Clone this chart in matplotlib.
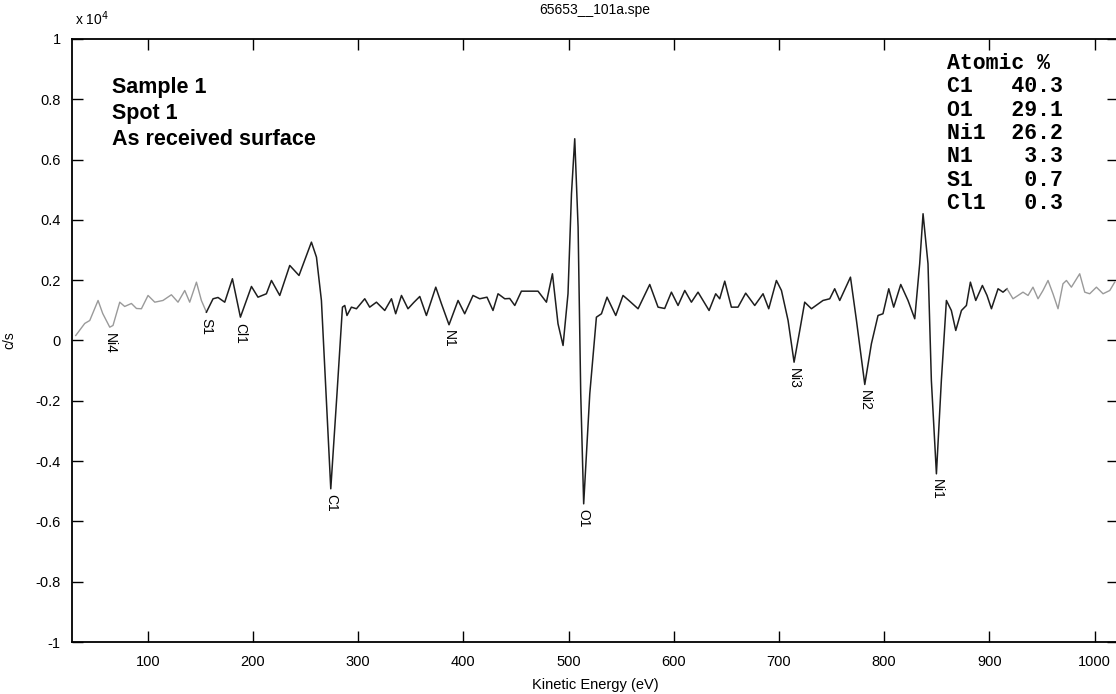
import numpy as np
import matplotlib.pyplot as plt
from matplotlib.ticker import FuncFormatter

plt.rcParams['font.family'] = ['Liberation Sans', 'DejaVu Sans']

# kinetic energy (eV) and counts (c/s)
energy_low = [31.6, 40.1, 44.9, 52.8, 57.2, 63.9, 67.0, 73.4, 78.1, 84.5, 89.3, 94.0,
              100.3, 106.7, 114.5, 122.5, 128.8, 135.2, 139.9, 146.3, 151.0, 155.8]
counts_low = [166, 564, 663, 1327, 896, 441, 498, 1270, 1128, 1227, 1061, 1052,
              1493, 1270, 1327, 1516, 1270, 1658, 1270, 1934, 1327, 939]

energy_mid = [155.8, 162.1, 166.8, 173.2, 180.5, 188.1, 198.6, 204.8, 212.8, 217.6, 225.5,
              235.0, 243.8, 255.6, 260.4, 265.1, 274.0, 279.9, 285.1, 287.3, 289.4, 293.6,
              298.4, 306.3, 311.0, 317.4, 325.3, 331.7, 335.7, 341.2, 347.4, 352.9, 358.6,
              364.9, 373.8, 379.2, 386.4, 395.0, 401.3, 409.2, 415.6, 422.5, 428.2, 433.0,
              439.4, 444.1, 448.9, 455.2, 471.0, 479.0, 484.7, 490.0, 494.8, 499.5, 502.8,
              505.9, 509.1, 511.6, 514.4, 520.2, 526.5, 531.3, 536.6, 544.9, 551.8, 556.6,
              566.1, 577.2, 585.1, 591.4, 597.8, 604.1, 610.5, 616.8, 623.1, 633.6, 639.9,
              643.7, 648.5, 654.8, 661.1, 668.4, 677.0, 684.9, 690.3, 697.6, 702.4, 708.7,
              714.4, 719.8, 724.5, 730.9, 741.9, 748.3, 753.0, 757.8, 768.0, 773.7, 781.6,
              787.9, 794.2, 798.9, 804.4, 809.1, 815.8, 822.7, 829.1, 833.8, 837.0, 841.7,
              844.9, 849.7, 854.4, 859.2, 863.9, 868.1, 873.5, 878.2, 882.0, 887.1, 893.4,
              897.8, 902.0, 908.3, 913.0, 916.8]
counts_mid = [939, 1383, 1426, 1270, 2047, 773, 1791, 1436, 1549, 1990, 1493,
              2488, 2156, 3261, 2763, 1327, -4919, -1768, 1105, 1161, 829, 1105,
              1052, 1383, 1105, 1270, 995, 1383, 886, 1493, 1052, 1260, 1459,
              829, 1768, 1217, 521, 1327, 886, 1493, 1383, 1436, 995, 1549,
              1383, 1393, 1161, 1635, 1635, 1270, 2212, 554, -166, 1549, 4866,
              6690, 3758, -1768, -5417, -1768, 773, 886, 1436, 829, 1493, 1350,
              1052, 1857, 1105, 1061, 1602, 1161, 1658, 1270, 1602, 995, 1549,
              1383, 1967, 1105, 1105, 1569, 1161, 1549, 1052, 1990, 1658, 663,
              -720, 332, 1270, 1052, 1327, 1383, 1715, 1327, 2100, 663, -1459,
              -109, 829, 886, 1715, 1105, 1857, 1327, 720, 2544, 4203, 2544,
              -1327, -4422, -1327, 1327, 995, 332, 995, 1161, 1934, 1327, 1824,
              1493, 1052, 1715, 1602, 1715]

energy_high = [916.8, 922.5, 927.3, 932.0, 936.8, 941.5, 946.3, 951.0, 955.8, 960.5, 965.3,
               970.0, 973.3, 978.0, 985.9, 990.7, 995.4, 1001.8, 1008.1, 1014.5, 1019.2]
counts_high = [1715, 1383, 1493, 1602, 1493, 1768, 1383, 1658, 1990, 1549, 1052,
               1880, 1990, 1768, 2212, 1602, 1549, 1768, 1549, 1658, 1934]

peak_names = ['Ni4', 'S1', 'Cl1', 'C1', 'N1', 'O1', 'Ni3', 'Ni2', 'Ni1']
peak_energy = [63.9, 155.8, 188.1, 274.0, 386.4, 514.4, 714.4, 781.6, 849.7]

elements = ['C1', 'O1', 'Ni1', 'N1', 'S1', 'Cl1']
atomic_pct = [40.3, 29.1, 26.2, 3.3, 0.7, 0.3]

fig = plt.figure(figsize=(11.16, 6.94), dpi=100)
ax = fig.add_axes([0.0645, 0.0749, 0.937, 0.869])

ax.plot(energy_low, counts_low, color='#9a9a9a', lw=1.0)
ax.plot(energy_mid, counts_mid, color='#1e1e1e', lw=1.1)
ax.plot(energy_high, counts_high, color='#9a9a9a', lw=1.0)

# peak labels below each minimum
all_e = np.array(energy_low + energy_mid + energy_high)
all_c = np.array(counts_low + counts_mid + counts_high)
for name, e in zip(peak_names, peak_energy):
    near = np.abs(all_e - e) < 3
    ymin = all_c[near].min()
    ax.annotate(name, (e, ymin), xytext=(0, -4), textcoords='offset points',
                rotation=-90, ha='center', va='top', fontsize=10)

ax.set_xlim(28, 1022)
ax.set_ylim(-1e4, 1e4)
ax.set_xticks(np.arange(100, 1001, 100))
ax.set_yticks(np.arange(-1e4, 1.01e4, 2e3))
ax.yaxis.set_major_formatter(FuncFormatter(lambda v, p: f'{round(v / 1e4, 1):g}'))
ax.tick_params(direction='in', length=8, width=1, top=True, right=True, labelsize=10.5)
ax.tick_params(axis='x', pad=9)
ax.tick_params(axis='y', pad=8)
for s in ax.spines.values():
    s.set_linewidth(1.3)

ax.set_title('65653__101a.spe', fontsize=10, pad=18)
ax.set_xlabel('Kinetic Energy (eV)', fontsize=10.5, labelpad=7)
ax.set_ylabel('c/s', fontsize=10, labelpad=14)
ax.text(0.003, 1.018, 'x 10$^4$', transform=ax.transAxes, fontsize=10, va='bottom')

ax.text(0.038, 0.937, 'Sample 1\nSpot 1\nAs received surface', transform=ax.transAxes,
        fontsize=15.5, fontweight='bold', va='top', ha='left', linespacing=1.3)

rows = ['Atomic %'] + [f'{n:<3}{v:6.1f}' for n, v in zip(elements, atomic_pct)]
ax.text(0.8365, 0.977, '\n'.join(rows), transform=ax.transAxes, family='Liberation Mono',
        fontweight='bold', fontsize=15.5, va='top', ha='left', linespacing=1.15)

fig.savefig('out.png', dpi=100)
